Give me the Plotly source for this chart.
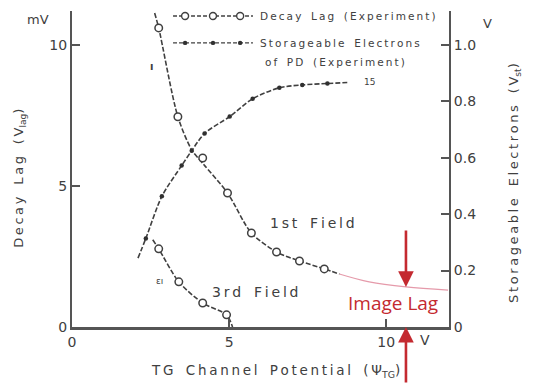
import plotly.graph_objects as go

# ---------------- data ----------------
# 1st field decay lag (mV) - experimental points
first_x = [2.76, 3.37, 4.16, 4.95, 5.71, 6.51, 7.24, 8.03]
first_y = [10.60, 7.45, 5.99, 4.75, 3.33, 2.66, 2.34, 2.06]
# drawn curve through the 1st field points
first_curve_x = [2.63, 2.76, 3.37, 3.81, 4.20, 4.95, 5.71, 6.51, 7.24, 8.03, 8.51]
first_curve_y = [11.13, 10.60, 7.45, 6.28, 5.75, 4.75, 3.33, 2.66, 2.34, 2.06, 1.88]
# extrapolated (pink) part of the 1st field curve
extra_x = [8.51, 9.46, 10.63, 11.97]
extra_y = [1.88, 1.60, 1.42, 1.31]

# 3rd field decay lag (mV)
third_x = [2.76, 3.40, 4.16, 4.92]
third_y = [2.77, 1.60, 0.85, 0.43]
third_curve_x = [2.57, 2.76, 3.40, 4.16, 4.92, 5.11]
third_curve_y = [3.09, 2.77, 1.60, 0.85, 0.43, 0.0]

# storageable electrons of PD (V)
stor_x = [2.35, 2.86, 3.49, 3.81, 4.22, 5.02, 5.75, 6.60, 7.33, 8.13]
stor_y = [0.314, 0.463, 0.572, 0.625, 0.686, 0.746, 0.809, 0.848, 0.858, 0.863]
stor_curve_x = [2.10, 2.35, 2.86, 3.49, 3.81, 4.22, 5.02, 5.75, 6.60, 7.33, 8.13, 8.83]
stor_curve_y = [0.244, 0.314, 0.463, 0.572, 0.625, 0.686, 0.746, 0.809, 0.848, 0.858, 0.863, 0.867]

x_ticks = [0, 5, 10]
x_tick_labels = ["0", "5", "10"]
left_ticks = [0, 5, 10]
left_tick_labels = ["0", "5", "10"]
right_ticks = [0, 0.2, 0.4, 0.6, 0.8, 1.0]
right_tick_labels = ["0", "0.2", "0.4", "0.6", "0.8", "1.0"]

image_lag_x = 10.63
image_lag_y = 1.42

# ---------------- styling ----------------
INK = "#404040"
RED = "#c42a30"
FONT = "DejaVu Sans"
DASH = "5px,2px"
TS = "\u2009"  # thin space used to imitate the wide letter spacing of the scan


def spaced(s):
    out = []
    for ch in s:
        if ch == " ":
            out.append(" " + TS + TS)
        else:
            out.append(ch + TS)
    return "".join(out).rstrip(TS)


fig = go.Figure()

fig.add_trace(go.Scatter(x=extra_x, y=extra_y, mode="lines",
                         line=dict(color="#e59aaa", width=1.2, shape="spline"),
                         showlegend=False, hoverinfo="skip"))
fig.add_trace(go.Scatter(x=first_curve_x, y=first_curve_y, mode="lines",
                         line=dict(color=INK, width=1.6, dash=DASH, shape="spline", smoothing=0.8),
                         showlegend=False))
fig.add_trace(go.Scatter(x=third_curve_x, y=third_curve_y, mode="lines",
                         line=dict(color=INK, width=1.6, dash=DASH, shape="spline", smoothing=0.8),
                         showlegend=False))
fig.add_trace(go.Scatter(x=stor_curve_x, y=stor_curve_y, mode="lines", yaxis="y2",
                         line=dict(color=INK, width=1.6, dash=DASH, shape="spline", smoothing=0.8),
                         showlegend=False))
fig.add_trace(go.Scatter(x=first_x, y=first_y, mode="markers",
                         marker=dict(symbol="circle", size=7.5, color="white",
                                     line=dict(color=INK, width=1.5)),
                         showlegend=False))
fig.add_trace(go.Scatter(x=third_x, y=third_y, mode="markers",
                         marker=dict(symbol="circle", size=7.5, color="white",
                                     line=dict(color=INK, width=1.5)),
                         showlegend=False))
fig.add_trace(go.Scatter(x=stor_x, y=stor_y, mode="markers", yaxis="y2",
                         marker=dict(symbol="circle", size=4.5, color="#303030"),
                         showlegend=False))

# ---------------- legend drawn by hand (paper coords) ----------------
shapes = []
for yrow in (0.984, 0.899):
    shapes.append(dict(type="line", xref="paper", yref="paper", x0=0.268, x1=0.480,
                       y0=yrow, y1=yrow, line=dict(color=INK, width=1.4, dash="4px,2px")))
for xc in (0.300, 0.374, 0.446):
    shapes.append(dict(type="circle", xref="paper", yref="paper", xsizemode="pixel",
                       ysizemode="pixel", xanchor=xc, yanchor=0.984, x0=-3.5, x1=3.5,
                       y0=-3.5, y1=3.5, fillcolor="white", line=dict(color=INK, width=1.4)))
    shapes.append(dict(type="circle", xref="paper", yref="paper", xsizemode="pixel",
                       ysizemode="pixel", xanchor=xc, yanchor=0.899, x0=-2.2, x1=2.2,
                       y0=-2.2, y1=2.2, fillcolor="#303030", line=dict(color="#303030", width=0)))


def txt(text, x, y, size=12, xanchor="center", ref="paper", angle=0, color=INK, font=FONT):
    return dict(text=text, x=x, y=y, xref="paper" if ref == "paper" else "x",
                yref="paper" if ref == "paper" else "y", showarrow=False,
                xanchor=xanchor, yanchor="middle", textangle=angle,
                font=dict(family=font, size=size, color=color))


annotations = [
    txt(spaced("Decay Lag (Experiment)"), 0.493, 0.984, size=10.5, xanchor="left"),
    txt(spaced("Storageable Electrons"), 0.493, 0.899, size=10.5, xanchor="left"),
    txt(spaced("of PD (Experiment)"), 0.507, 0.839, size=10.5, xanchor="left"),
    txt("mV", -0.090, 0.972, size=13),
    txt("V", 1.101, 0.962, size=13),
    txt("V", 0.936, -0.041, size=14),
    txt(spaced("Decay Lag (V") + "<sub>lag</sub>)", -0.138, 0.472, size=13, angle=-90),
    txt(spaced("Storageable Electrons (V") + "<sub>st</sub>)", 1.175, 0.456, size=13, angle=-90),
    txt(spaced("TG Channel Potential (Ψ") + "<sub>TG</sub>)", 0.541, -0.140, size=13.5),
    txt(spaced("1st Field"), 7.65, 3.69, size=14, ref="data"),
    txt(spaced("3rd Field"), 5.84, 1.24, size=14, ref="data"),
    txt("<b>ı</b>", 2.54, 9.22, size=10, ref="data"),
    txt("ɛı", 2.79, 1.63, size=9, ref="data"),
    txt("15", 9.46, 8.69, size=9, ref="data"),
    txt("Image Lag", 10.22, 0.85, size=19, ref="data", color=RED, font="Open Sans"),
    dict(x=image_lag_x, y=image_lag_y, xref="x", yref="y", text="", showarrow=True,
         ax=0, ay=-58, arrowhead=2, arrowsize=1.2, arrowwidth=2.6, arrowcolor=RED),
    dict(x=image_lag_x, y=0, xref="x", yref="y", text="", showarrow=True,
         ax=0, ay=58, arrowhead=2, arrowsize=1.2, arrowwidth=2.6, arrowcolor=RED),
]

fig.update_layout(
    width=539, height=384,
    margin=dict(l=72, r=90, t=11, b=57),
    paper_bgcolor="white", plot_bgcolor="white",
    showlegend=False,
    font=dict(family=FONT, color=INK),
    xaxis=dict(range=[0, 12], showgrid=False, zeroline=False, showline=True,
               linecolor="#555555", linewidth=2.5, ticks="inside", ticklen=8,
               tickwidth=1.5, tickcolor="#555555", tickvals=x_ticks, ticktext=x_tick_labels,
               tickfont=dict(size=14, family=FONT, color=INK)),
    yaxis=dict(range=[0, 11.2], showgrid=False, zeroline=False, showline=True,
               linecolor="#555555", linewidth=2, ticks="inside", ticklen=8,
               tickwidth=1.5, tickcolor="#555555", tickvals=left_ticks,
               ticktext=left_tick_labels, tickfont=dict(size=14, family=FONT, color=INK)),
    yaxis2=dict(range=[0, 1.12], overlaying="y", side="right", showgrid=False,
                zeroline=False, showline=True, linecolor="#555555", linewidth=2,
                ticks="inside", ticklen=8, tickwidth=1.5, tickcolor="#555555",
                tickvals=right_ticks, ticktext=right_tick_labels,
                tickfont=dict(size=14, family=FONT, color=INK)),
    shapes=shapes,
    annotations=annotations,
)

fig.write_html("out.html", config={"displayModeBar": False},
               post_script="document.body.style.margin='0';")
